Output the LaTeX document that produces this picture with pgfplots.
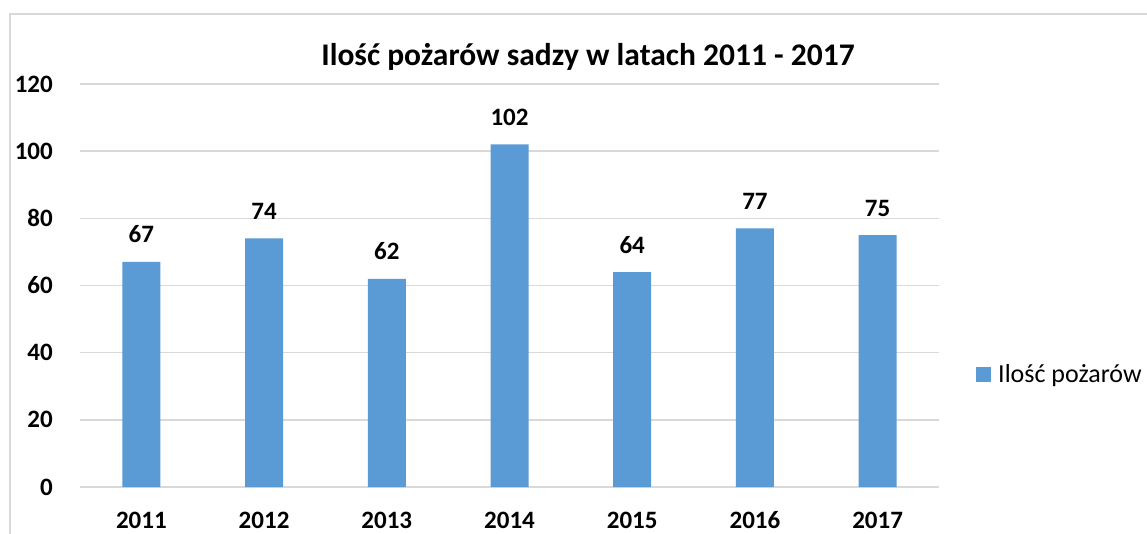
\documentclass[border=0pt]{standalone}
\usepackage{fontspec}
\setmainfont{Carlito}
\usepackage{pgfplots}
\pgfplotsset{compat=1.18}
\definecolor{barblue}{HTML}{5B9BD5}
\definecolor{gridgray}{HTML}{D9D9D9}
\begin{document}
\begin{tikzpicture}[x=1pt,y=1pt]
\clip (0,0) rectangle (1147,533);
\fill[white] (0,0) rectangle (1147,533);
\draw[color=gridgray, line width=1.5pt] (10,-5) -- (10,519) -- (1160,519);
\node[font=\fontsize{31.5}{36}\selectfont\bfseries, anchor=base, inner sep=0pt] at (588,467) {Ilość pożarów sadzy w latach 2011 - 2017};
\begin{axis}[
  at={(80pt,46pt)}, anchor=south west,
  scale only axis, width=859pt, height=403pt,
  xmin=-0.5, xmax=6.5, ymin=0, ymax=120,
  ytick={0,20,40,60,80,100,120},
  xtick=data,
  xticklabels={2011,2012,2013,2014,2015,2016,2017},
  /pgf/number format/assume math mode=true,
  axis line style={draw=none},
  major tick length=0pt,
  ymajorgrids,
  grid style={color=gridgray, line width=1.5pt},
  yticklabel style={font=\fontsize{25}{30}\selectfont\bfseries, anchor=east, inner sep=0pt, xshift=-27pt},
  xticklabel style={font=\fontsize{25}{30}\selectfont\bfseries, anchor=base, inner sep=0pt, yshift=-41pt},
  ybar, bar width=38pt, bar shift=0pt,
  nodes near coords,
  every node near coord/.append style={font=\fontsize{25}{30}\selectfont\bfseries, anchor=base, inner sep=0pt, yshift=19pt, /pgf/number format/assume math mode=true},
  legend style={draw=none, fill=none, inner sep=0pt, anchor=west, at={(1.0431,0.280)}, font=\fontsize{26}{30}\selectfont,
    nodes={inner sep=0pt}, /tikz/every even column/.style={column sep=0pt}},
  legend image code/.code={\fill[barblue] (0pt,-7.5pt) rectangle (15pt,7.5pt); \path (22pt,0pt);},
]
\addplot[fill=barblue, draw=none] coordinates {(0,67) (1,74) (2,62) (3,102) (4,64) (5,77) (6,75)};
\addlegendentry{Ilość pożarów}
\end{axis}
\end{tikzpicture}
\end{document}
